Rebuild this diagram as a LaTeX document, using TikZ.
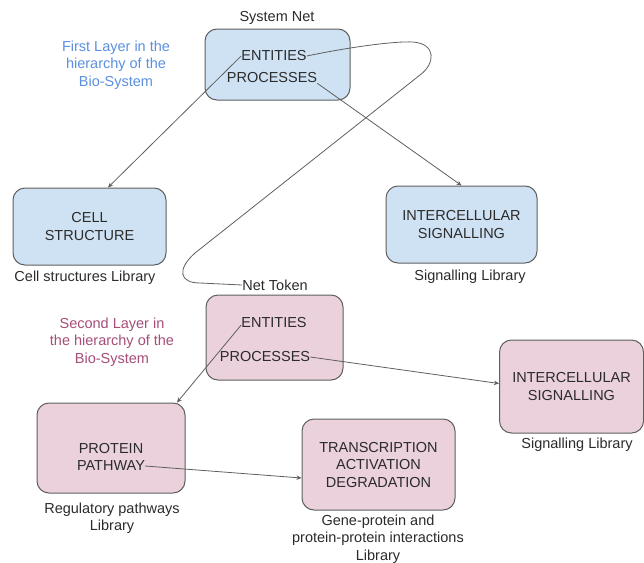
\documentclass[tikz,border=0pt]{standalone}
\usepackage{fontspec}
\setmainfont{Liberation Sans}
\usetikzlibrary{arrows.meta}
\definecolor{bluefill}{HTML}{CFE2F3}
\definecolor{pinkfill}{HTML}{EAD1DC}
\definecolor{edgegray}{HTML}{5F5F5F}
\definecolor{textgray}{HTML}{2B2B2B}
\definecolor{layerblue}{HTML}{5B8FE0}
\definecolor{layerpink}{HTML}{A64D79}
\tikzset{
  every node/.style={font=\fontsize{14.5}{17.5}\selectfont, text=textgray, inner sep=0pt},
  box/.style={draw=edgegray, line width=1pt, rounded corners=12pt, align=center},
  bluebox/.style={box, fill=bluefill},
  pinkbox/.style={box, fill=pinkfill},
  lbl/.style={align=center},
  link/.style={draw=edgegray, line width=0.8pt},
  arr/.style={link, -{Stealth[length=5pt,width=4.5pt]}}
}
\begin{document}
\begin{tikzpicture}[x=1pt,y=-1pt]
\useasboundingbox (0,0) rectangle (644,562);

% first layer: system net
\node[bluebox, minimum width=145pt, minimum height=71pt] (sysnet) at (277.5,64.5) {};
\node (ent1) at (274,56) {ENTITIES};
\node (proc1) at (272,78) {PROCESSES};
\node (sysname) at (277,18) {System Net};
\node[lbl, text=layerblue] (layer1) at (116,65) {First Layer in the\\hierarchy of the\\Bio-System};

\node[bluebox, minimum width=153pt, minimum height=77pt] (cell) at (89.5,226.5) {CELL\\STRUCTURE};
\node (celllib) at (85,278) {Cell structures Library};

\node[bluebox, minimum width=151pt, minimum height=77pt] (isig1) at (461.5,224.5) {INTERCELLULAR\\SIGNALLING};
\node (siglib1) at (470,277) {Signalling Library};

% second layer: net token
\node (tokname) at (275,285) {Net Token};
\node[pinkbox, minimum width=137pt, minimum height=85pt] (token) at (274.5,337.5) {};
\node (ent2) at (274,323) {ENTITIES};
\node (proc2) at (265,357) {PROCESSES};
\node[lbl, text=layerpink] (layer2) at (112,342) {Second Layer in\\the hierarchy of the\\Bio-System};

\node[pinkbox, minimum width=148pt, minimum height=90pt] (prot) at (111,448) {};
\node (protein) at (111,448) {PROTEIN};
\node (pathway) at (111,466) {PATHWAY};
\node[lbl] (reglib) at (112,518) {Regulatory pathways\\Library};

\node[pinkbox, minimum width=153pt, minimum height=91pt] (trans) at (378.5,464.5) {TRANSCRIPTION\\ACTIVATION\\DEGRADATION};
\node[lbl] (genelib) at (378,539) {Gene-protein and\\protein-protein interactions\\Library};

\node[pinkbox, minimum width=144pt, minimum height=93pt] (isig2) at (571.5,386.5) {INTERCELLULAR\\SIGNALLING};
\node (siglib2) at (577,445) {Signalling Library};

% connectors
\draw[arr] (ent1.west) -- ([xshift=18.5pt]cell.north);
\draw[arr] (proc1.south east) -- (isig1.north);
\draw[link] (ent1.east) .. controls (350,47) and (395,41) .. (413,42)
  .. controls (437,44) and (435,64) .. (420,75)
  -- (195,253)
  .. controls (176,270) and (180,283) .. (200,283)
  -- (tokname.west);
\draw[arr] ([yshift=-2pt]ent2.west) -- ([xshift=66pt]prot.north);
\draw[arr] (proc2.east) -- ([yshift=3pt]isig2.west);
\draw[arr] (pathway.east) -- ([yshift=-13.5pt]trans.west);
\end{tikzpicture}
\end{document}
